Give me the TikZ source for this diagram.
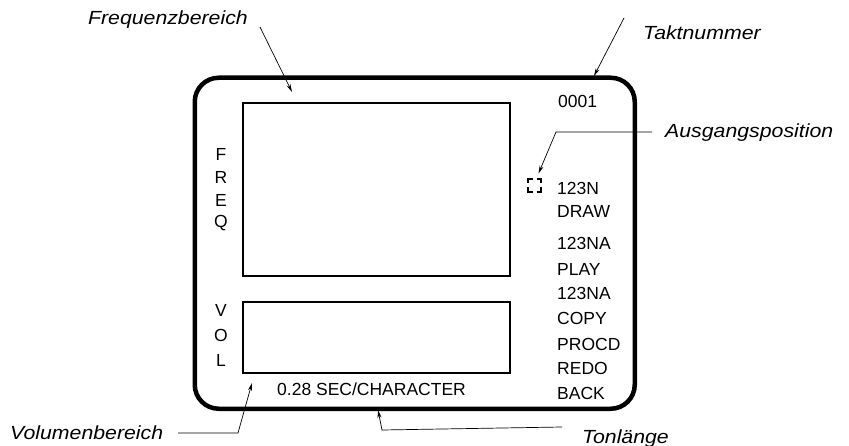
\documentclass[tikz,border=0pt]{standalone}
\usepackage{fontspec}
\setmainfont{Liberation Sans}
\newfontfamily\lblfont[FakeStretch=1.12]{Liberation Sans}
\usetikzlibrary{arrows.meta}
\begin{document}
\begin{tikzpicture}[x=1pt,y=-1pt,
  lbl/.style={font=\lblfont\itshape\fontsize{19}{21}\selectfont, inner sep=0pt},
  disp/.style={font=\fontsize{17.5}{19}\selectfont, inner sep=0pt, anchor=west},
  vlet/.style={font=\fontsize{17.5}{19}\selectfont, inner sep=0pt},
  frame/.style={draw, line width=4.5pt, rounded corners=24pt, inner sep=0pt},
  panel/.style={draw, line width=2pt, inner sep=0pt},
  ptr/.style={line width=0.7pt, -{Stealth[length=8pt,width=4pt]}},
  cur/.style={line width=2.4pt}]
\useasboundingbox (0,0) rectangle (849,446);
\fill[white] (0,0) rectangle (849,446);
% outer display
\node[frame, minimum width=440pt, minimum height=331pt, anchor=north west] (outer) at (192.5,75.5) {};
% frequency and volume panels
\node[panel, minimum width=267pt, minimum height=173pt, anchor=north west] (freq) at (242,102) {};
\node[panel, minimum width=267pt, minimum height=71pt, anchor=north west] (vol) at (242,301) {};
% vertical letters
\node[vlet] (f1) at (221,154) {F};
\node[vlet] (f2) at (221,177) {R};
\node[vlet] (f3) at (221,200) {E};
\node[vlet] (f4) at (221,223) {Q};
\node[vlet] (v1) at (221,310) {V};
\node[vlet] (v2) at (221,335) {O};
\node[vlet] (v3) at (221,360) {L};
% right column
\node[disp] (num) at (558,101) {0001};
\node[disp] (t1) at (557,188) {123N};
\node[disp] (t2) at (557,211) {DRAW};
\node[disp] (t3) at (557,243) {123NA};
\node[disp] (t4) at (557,269) {PLAY};
\node[disp] (t5) at (557,293) {123NA};
\node[disp] (t6) at (557,318) {COPY};
\node[disp] (t7) at (557,344) {PROCD};
\node[disp] (t8) at (557,368) {REDO};
\node[disp] (t9) at (557,393) {BACK};
\node[disp] (sec) at (277,389) {0.28 SEC/CHARACTER};
% cursor mark
\coordinate (cur) at (534.5,185.5);
\draw[cur] ([shift={(-2,-6.5)}]cur) -- ([shift={(-6.5,-6.5)}]cur) -- ([shift={(-6.5,-2)}]cur);
\draw[cur] ([shift={(2,-6.5)}]cur) -- ([shift={(6.5,-6.5)}]cur) -- ([shift={(6.5,-2)}]cur);
\draw[cur] ([shift={(-2,6.5)}]cur) -- ([shift={(-6.5,6.5)}]cur) -- ([shift={(-6.5,2)}]cur);
\draw[cur] ([shift={(2,6.5)}]cur) -- ([shift={(6.5,6.5)}]cur) -- ([shift={(6.5,2)}]cur);
% labels
\node[lbl, anchor=base east] (lfreq) at (248,25) {Frequenzbereich};
\node[lbl, anchor=base west] (ltakt) at (643,40) {Taktnummer};
\node[lbl, anchor=base west] (lausg) at (665,138) {Ausgangsposition};
\node[lbl, anchor=base west] (lvol) at (10,439) {Volumenbereich};
\node[lbl, anchor=base east] (lton) at (669,443) {Tonlänge};
% pointers
\coordinate (pf0) at (260,27);
\coordinate (pf1) at (292,92);
\draw[ptr] (pf0) -- (pf1);
\coordinate (pt0) at (624,18);
\coordinate (pt1) at (594,76);
\draw[ptr] (pt0) -- (pt1);
\coordinate (pa0) at (652,132);
\coordinate (pa1) at (556,132);
\draw[ptr] (pa0) -- (pa1) -- ([shift={(4,-12)}]cur);
\coordinate (pv0) at (178,433);
\coordinate (pv1) at (238,433);
\coordinate (pv2) at (252,383);
\draw[ptr] (pv0) -- (pv1) -- (pv2);
\coordinate (pn0) at (562,427);
\coordinate (pn1) at (382,430);
\coordinate (pn2) at (378,410);
\draw[ptr] (pn0) -- (pn1) -- (pn2);
\end{tikzpicture}
\end{document}
